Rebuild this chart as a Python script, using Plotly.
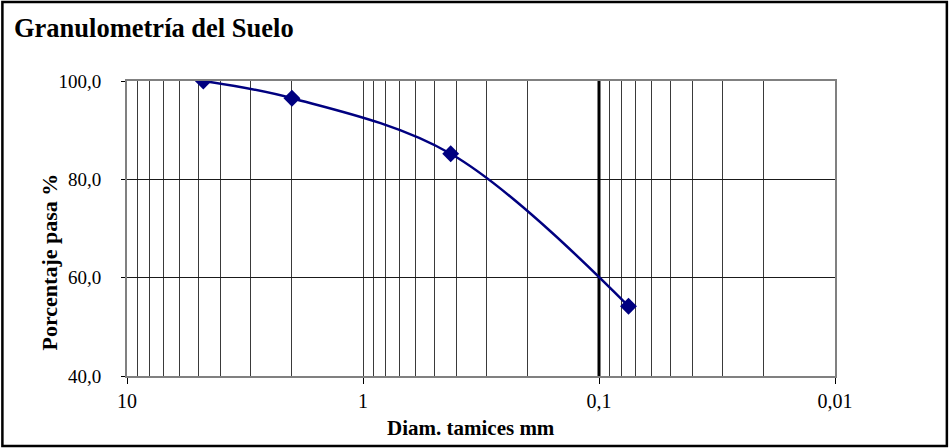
import plotly.graph_objects as go

# Sieve analysis: opening size (mm) and percentage passing
diam_mm = [4.75, 2.0, 0.425, 0.075]
pct_pasa = [100.0, 96.5, 85.2, 54.2]

# Axis labels and ticks
x_tick_vals = [10, 1, 0.1, 0.01]
x_tick_text = ["10", "1", "0,1", "0,01"]
minor_vals = [k * 10.0 ** e for e in (-2, -1, 0) for k in range(2, 10)]
ref_diam = [0.1, 0.1]          # No. 200 sieve reference line
ref_pct = [40.0, 100.0]

FONT = "Liberation Serif, Times New Roman, serif"
NAVY = "#000080"

fig = go.Figure()

fig.add_trace(go.Scatter(
    x=ref_diam, y=ref_pct, mode="lines",
    line=dict(color="black", width=3),
    hoverinfo="skip", showlegend=False,
))

fig.add_trace(go.Scatter(
    x=diam_mm, y=pct_pasa, mode="lines+markers",
    line=dict(color=NAVY, width=2.5, shape="spline", smoothing=1),
    marker=dict(symbol="diamond", size=13, color=NAVY),
    showlegend=False,
))

fig.update_layout(
    width=950, height=448,
    margin=dict(l=127, r=115, t=81, b=72),
    paper_bgcolor="white", plot_bgcolor="white",
    separators=", ",
    font=dict(family=FONT, size=20, color="black"),
    shapes=[dict(
        type="rect", xref="paper", yref="paper",
        x0=-0.176, x1=1.158, y0=-0.237, y1=1.268,
        line=dict(color="black", width=2.5),
    )],
    annotations=[
        dict(text="<b>Granulometría del Suelo</b>", xref="paper", yref="paper",
             x=-0.162, y=1.18, xanchor="left", yanchor="middle",
             showarrow=False, font=dict(family=FONT, size=26.5)),
        dict(text="<b>Diam. tamices mm</b>", xref="paper", yref="paper",
             x=(471 - 127) / 708, y=-(428 - 376) / 295, xanchor="center", yanchor="middle",
             showarrow=False, font=dict(family=FONT, size=21)),
        dict(text="<b>Porcentaje pasa %</b>", xref="paper", yref="paper",
             x=-(127 - 48.5) / 708, y=(376 - 262) / 295, xanchor="center", yanchor="middle",
             textangle=-90, showarrow=False, font=dict(family=FONT, size=22)),
    ],
)

fig.update_xaxes(
    type="log", range=[1, -2],
    tickvals=x_tick_vals, ticktext=x_tick_text,
    ticks="outside", ticklen=6, tickcolor="black", tickwidth=1,
    showgrid=True, gridcolor="#3a3a3a", gridwidth=1,
    minor=dict(tickvals=minor_vals, showgrid=True, gridcolor="#3a3a3a", gridwidth=1, ticks=""),
    showline=True, linecolor="#808080", linewidth=2, mirror=True,
    zeroline=False, tickfont=dict(size=20),
)

fig.update_yaxes(
    range=[40, 100], dtick=20, tickformat=".1f",
    ticks="outside", ticklen=4, tickcolor="black",
    ticklabelstandoff=16,
    showgrid=True, gridcolor="#1a1a1a", gridwidth=1,
    showline=True, linecolor="#808080", linewidth=2, mirror=True,
    zeroline=False, tickfont=dict(size=19),
)

fig.write_html("out.html")
